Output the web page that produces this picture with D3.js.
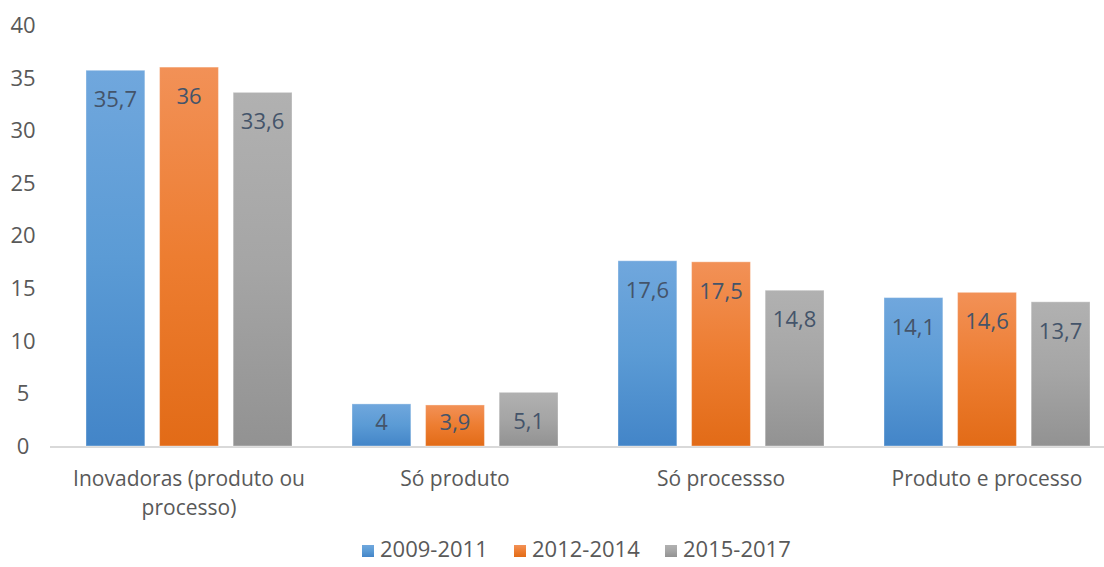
<!DOCTYPE html>
<html>
<head>
<meta charset="utf-8">
<script src="https://cdn.jsdelivr.net/npm/d3@7"></script>
<style>
  body { margin: 0; background: #fff; }
  text { font-family: "Open Sans", sans-serif; }
</style>
</head>
<body>
<div id="chart"></div>
<script>
var categories = [["Inovadoras (produto ou", "processo)"], ["Só produto"], ["Só processso"], ["Produto e processo"]];
var seriesNames = ["2009-2011", "2012-2014", "2015-2017"];
var values2009 = [35.7, 4, 17.6, 14.1];
var values2012 = [36, 3.9, 17.5, 14.6];
var values2015 = [33.6, 5.1, 14.8, 13.7];
var valueLabels = [["35,7", "4", "17,6", "14,1"], ["36", "3,9", "17,5", "14,6"], ["33,6", "5,1", "14,8", "13,7"]];
var yTicks = [0, 5, 10, 15, 20, 25, 30, 35, 40];

var seriesValues = [values2009, values2012, values2015];
var gradColors = [
  ["#70a7dd", "#5b9bd5", "#4385c8"],
  ["#f29157", "#ed7d31", "#e26b17"],
  ["#b1b1b1", "#a5a5a5", "#929292"]
];

var width = 1104, height = 567;

var svg = d3.select("#chart")
  .append("svg")
  .attr("width", width)
  .attr("height", height);

var defs = svg.append("defs");
gradColors.forEach(function (c, i) {
  var g = defs.append("linearGradient").attr("id", "grad" + i)
    .attr("x1", 0).attr("y1", 0).attr("x2", 0).attr("y2", 1);
  g.append("stop").attr("offset", "0%").attr("stop-color", c[0]);
  g.append("stop").attr("offset", "50%").attr("stop-color", c[1]);
  g.append("stop").attr("offset", "100%").attr("stop-color", c[2]);
});

var y = d3.scaleLinear().domain([0, 40]).range([446, 25]);

var x0 = d3.scaleBand().domain(d3.range(categories.length)).range([56, 1120]).paddingInner(0).paddingOuter(0);
var x1 = d3.scaleBand().domain(d3.range(seriesNames.length)).range([30, 236]).paddingInner(0.2).paddingOuter(0);

// y tick labels
svg.append("g").selectAll("text")
  .data(yTicks).enter().append("text")
  .attr("x", 23)
  .attr("y", function (d) { return y(d); })
  .attr("dy", "0.36em")
  .attr("text-anchor", "middle")
  .style("font-size", "22px")
  .style("fill", "#595959")
  .text(function (d) { return d; });

// axis line
svg.append("line")
  .attr("x1", 50).attr("x2", 1104)
  .attr("y1", y(0) + 1).attr("y2", y(0) + 1)
  .attr("stroke", "#d9d9d9").attr("stroke-width", 2);

// bars
seriesValues.forEach(function (vals, s) {
  var g = svg.append("g");
  g.selectAll("rect")
    .data(vals).enter().append("rect")
    .attr("x", function (d, i) { return x0(i) + x1(s); })
    .attr("y", function (d) { return y(d); })
    .attr("width", x1.bandwidth())
    .attr("height", function (d) { return y(0) - y(d); })
    .attr("fill", "url(#grad" + s + ")")
    .attr("stroke", "#ffffff")
    .attr("stroke-opacity", 0.35)
    .attr("stroke-width", 1);

  g.selectAll("text")
    .data(vals).enter().append("text")
    .attr("x", function (d, i) { return x0(i) + x1(s) + x1.bandwidth() / 2; })
    .attr("y", function (d) { return Math.min(y(d) + 29, y(0) - 24); })
    .attr("dy", "0.36em")
    .attr("text-anchor", "middle")
    .style("font-size", "22px")
    .style("fill", "#44546a")
    .text(function (d, i) { return valueLabels[s][i]; });
});

// category labels
var cat = svg.append("g").selectAll("text")
  .data(categories).enter().append("text")
  .attr("y", 478)
  .attr("text-anchor", "middle")
  .style("font-size", "21px")
  .style("fill", "#595959");
cat.each(function (d, i) {
  var t = d3.select(this);
  var cx = x0(i) + x1(0) + (x1(2) + x1.bandwidth() - x1(0)) / 2;
  d.forEach(function (line, k) {
    t.append("tspan").attr("x", cx).attr("y", 478 + k * 29).attr("dy", "0.36em").text(line);
  });
});

// legend
var legendX = [362, 514, 665];
var legend = svg.append("g").selectAll("g")
  .data(seriesNames).enter().append("g")
  .attr("transform", function (d, i) { return "translate(" + legendX[i] + ",549)"; });
legend.append("rect")
  .attr("x", 0).attr("y", -4)
  .attr("width", 12).attr("height", 12)
  .attr("fill", function (d, i) { return "url(#grad" + i + ")"; });
legend.append("text")
  .attr("x", 18).attr("y", 0)
  .attr("dy", "0.36em")
  .style("font-size", "22px")
  .style("fill", "#595959")
  .text(function (d) { return d; });
</script>
</body>
</html>
